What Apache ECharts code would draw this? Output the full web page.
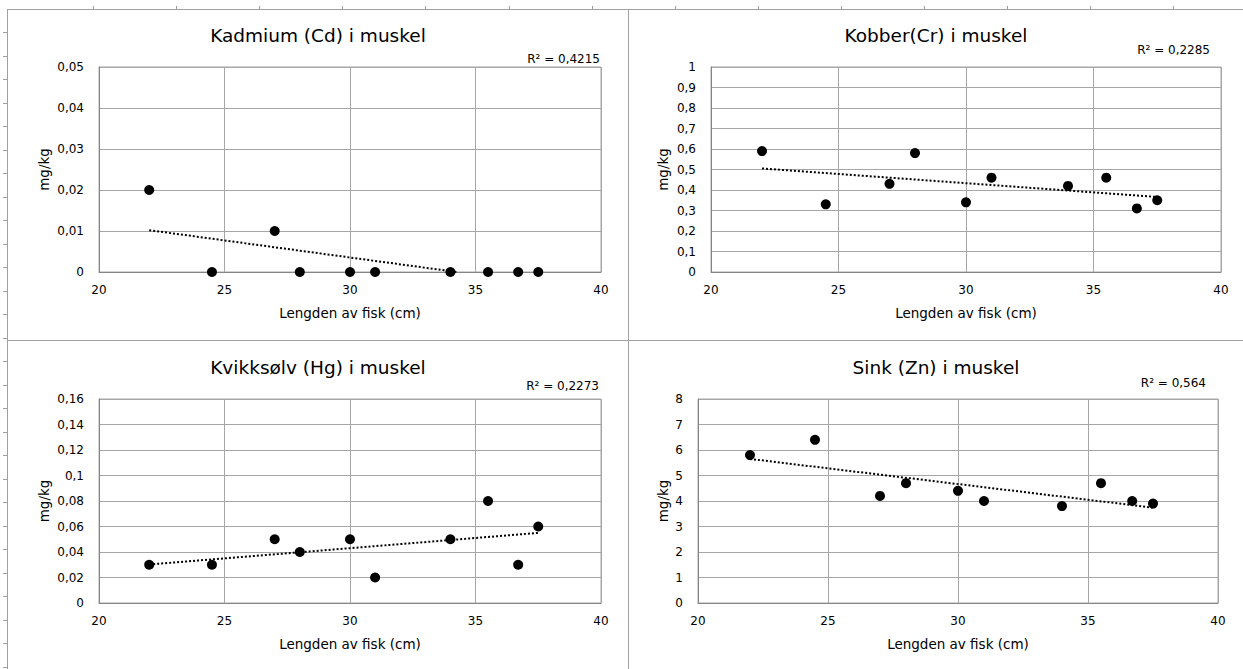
<!DOCTYPE html>
<html><head><meta charset="utf-8">
<script src="https://cdn.jsdelivr.net/npm/echarts@6/dist/echarts.min.js"></script>
<style>html,body{margin:0;padding:0;background:#fff}#c{width:1243px;height:669px}</style>
</head><body><div id="c"></div>
<script>
// ---- data ----
const lengths   = [22, 24.5, 27, 28, 30, 31, 34, 35.5, 36.7, 37.5];
const cadmium   = [0.02, 0, 0.01, 0, 0, 0, 0, 0, 0, 0];
const kobber    = [0.59, 0.33, 0.43, 0.58, 0.34, 0.46, 0.42, 0.46, 0.31, 0.35];
const kvikksolv = [0.03, 0.03, 0.05, 0.04, 0.05, 0.02, 0.05, 0.08, 0.03, 0.06];
const sink      = [5.8, 6.4, 4.2, 4.7, 4.4, 4.0, 3.8, 4.7, 4.0, 3.9];
const trendCd = [[22, 0.0102], [34.25, 0]];
const trendCu = [[22, 0.505], [37.5, 0.366]];
const trendHg = [[22, 0.0302], [37.5, 0.0550]];
const trendZn = [[22, 5.65], [37.5, 3.74]];
const chartTitles = ['Kadmium (Cd) i muskel', 'Kobber(Cr) i muskel', 'Kvikksølv (Hg) i muskel', 'Sink (Zn) i muskel'];
const r2Labels = ['R\u00B2 = 0,4215', 'R\u00B2 = 0,2285', 'R\u00B2 = 0,2273', 'R\u00B2 = 0,564'];
const xName = 'Lengden av fisk (cm)';
const yName = 'mg/kg';
const xMin = 20, xMax = 40, xStep = 5;
const yMaxes = [0.05, 1, 0.16, 8];
const ySteps = [0.01, 0.1, 0.02, 1];

const seriesValues = [cadmium, kobber, kvikksolv, sink];
const trends = [trendCd, trendCu, trendHg, trendZn];

// ---- layout ----
const FONT = '"DejaVu Sans", sans-serif';
const grids = [
  {left: 99, top: 67, width: 502, height: 205},
  {left: 711, top: 67, width: 510, height: 205},
  {left: 99, top: 399, width: 502, height: 204},
  {left: 698, top: 399, width: 520, height: 204}
];
const yNameGaps = [48, 41, 48, 28];
const titlePos = [[318, 35], [936, 35], [318, 367], [936, 367]];
const r2Pos = [[600, 59], [1210, 50], [599, 386], [1206, 383]];

function fmt(v) {
  const r = Math.round(v * 10000) / 10000;
  return String(r).replace('.', ',');
}

const option = {
  animation: false,
  backgroundColor: '#fff',
  grid: grids.map(g => Object.assign({show: true, borderColor: '#a6a6a6', borderWidth: 1, backgroundColor: 'transparent', containLabel: false}, g)),
  xAxis: grids.map((g, i) => ({
    type: 'value', gridIndex: i, min: xMin, max: xMax, interval: xStep,
    name: xName, nameLocation: 'middle', nameGap: 34,
    nameTextStyle: {fontFamily: FONT, fontSize: 13.5, color: '#000'},
    axisLine: {show: true, onZero: false, lineStyle: {color: '#868686', width: 1}},
    axisTick: {show: false},
    axisLabel: {fontFamily: FONT, fontSize: 12, color: '#000', margin: 12},
    splitLine: {show: true, lineStyle: {color: '#a6a6a6', width: 1}}
  })),
  yAxis: grids.map((g, i) => ({
    type: 'value', gridIndex: i, min: 0, max: yMaxes[i], interval: ySteps[i],
    name: yName, nameLocation: 'middle', nameGap: yNameGaps[i],
    nameTextStyle: {fontFamily: FONT, fontSize: 13.5, color: '#000'},
    axisLine: {show: true, lineStyle: {color: '#868686', width: 1}},
    axisTick: {show: false},
    axisLabel: {fontFamily: FONT, fontSize: 12, color: '#000', margin: 15, formatter: fmt},
    splitLine: {show: true, lineStyle: {color: '#a6a6a6', width: 1}}
  })),
  series: []
};

seriesValues.forEach((vals, i) => {
  option.series.push({
    type: 'line', xAxisIndex: i, yAxisIndex: i, data: trends[i],
    symbol: 'none', silent: true, z: 2,
    lineStyle: {color: '#000', width: 2, type: [2, 2]}
  });
  option.series.push({
    type: 'scatter', xAxisIndex: i, yAxisIndex: i,
    data: lengths.map((x, k) => [x, vals[k]]),
    symbol: 'circle', symbolSize: 10, z: 3,
    itemStyle: {color: '#000', opacity: 1}
  });
});

// background "spreadsheet" lines
const g = [];
const lineC = '#a0a0a0';
function ln(x1, y1, x2, y2) {
  g.push({type: 'line', silent: true, z: -10, shape: {x1, y1, x2, y2}, style: {stroke: lineC, lineWidth: 1}});
}
ln(7, 9.5, 1243, 9.5);
ln(7.5, 9, 7.5, 669);
ln(628.5, 9, 628.5, 669);
ln(7, 340.5, 1243, 340.5);
for (let x = 93; x < 1243; x += 83.1) ln(Math.round(x) + 0.5, 6, Math.round(x) + 0.5, 9);
for (let y = 32; y < 669; y += 23.5) ln(3, Math.round(y) + 0.5, 7, Math.round(y) + 0.5);

chartTitles.forEach((t, i) => {
  g.push({type: 'text', silent: true, x: titlePos[i][0], y: titlePos[i][1],
    style: {text: t, fontFamily: FONT, fontSize: 18.5, fill: '#000', align: 'center', verticalAlign: 'middle'}});
  g.push({type: 'text', silent: true, x: r2Pos[i][0], y: r2Pos[i][1],
    style: {text: r2Labels[i], fontFamily: FONT, fontSize: 12, fill: '#000', align: 'right', verticalAlign: 'middle'}});
});
option.graphic = g;

const chart = echarts.init(document.getElementById('c'), null, {renderer: 'svg', width: 1243, height: 669});
chart.setOption(option);
</script>
</body></html>
